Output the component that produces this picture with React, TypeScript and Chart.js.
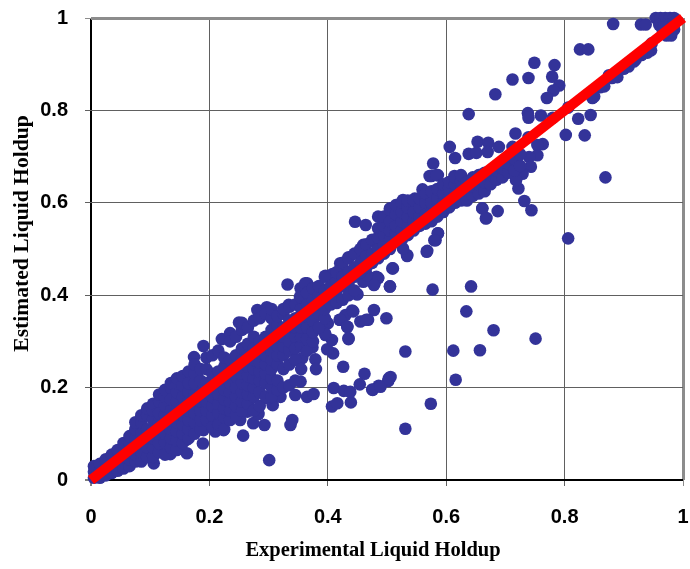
import React, { useEffect, useRef } from "react";
import { Chart, registerables } from "chart.js";
Chart.register(...registerables);

const xTitle = "Experimental Liquid Holdup";
const yTitle = "Estimated Liquid Holdup";
const tickValues = [0, 0.2, 0.4, 0.6, 0.8, 1];
const lineX = [0, 1];
const lineY = [0, 1];

const bandX = [.005,.015,.025,.035,.045,.055,.065,.075,.085,.095,.105,.115,.125,.135,.145,.155,.165,.175,.185,.195,.205,.215,.225,.235,.245,.255,.265,.275,.285,.295,.305,.315,.325,.335,.345,.355,.365,.375,.385,.395,.405,.415,.425,.435,.445,.455,.465,.475,.485,.495,.505,.515,.525,.535,.545,.555,.565,.575,.585,.595,.605,.615,.625,.635,.645,.655,.665,.675,.685,.695,.705,.715,.725];
const bandY = [
[.005,.018,.03],[.005,.02,.035],[.01,.025,.045],[.015,.035,.055],[.02,.04,.065],[.025,.05,.08],
[.03,.045,.06,.08,.095],[.04,.055,.07,.09,.11,.125],[.04,.06,.08,.1,.125,.14],[.05,.07,.09,.11,.14,.155],
[.05,.07,.09,.11,.13,.15,.165],[.06,.08,.1,.125,.145,.17,.185],[.055,.08,.1,.12,.14,.16,.18,.195],[.07,.09,.11,.13,.15,.175,.2,.21],
[.065,.085,.105,.125,.15,.17,.19,.21,.22],[.08,.1,.12,.14,.16,.18,.205,.225],[.09,.11,.13,.15,.17,.19,.21,.235],
[.1,.125,.145,.165,.185,.21,.23,.25],[.11,.13,.15,.17,.19,.215,.24],[.13,.15,.17,.19,.21,.24,.265],
[.115,.14,.16,.18,.2,.23,.27],[.12,.145,.165,.185,.21,.235,.28],[.11,.135,.155,.175,.195,.22,.245,.265],
[.13,.15,.17,.19,.21,.235,.26,.3],[.14,.16,.18,.2,.225,.25,.27,.31],[.15,.17,.19,.21,.23,.26,.285,.325,.34],
[.165,.185,.205,.225,.245,.27,.295,.33],[.15,.18,.2,.22,.24,.26,.285,.31,.345],[.16,.19,.215,.235,.255,.275,.3,.35],
[.18,.21,.23,.25,.27,.29,.31,.36],[.18,.2,.22,.24,.26,.28,.3,.325,.35,.37],[.195,.215,.25,.27,.29,.31,.335,.355],
[.2,.24,.27,.29,.31,.33,.36,.37],[.205,.25,.28,.3,.32,.345,.375],[.215,.26,.285,.31,.33,.35,.38],
[.24,.29,.31,.33,.35,.37,.395],[.28,.305,.33,.355,.38,.405],[.3,.32,.345,.37,.39,.415],[.33,.36,.38,.4,.42],
[.35,.37,.39,.41,.44],[.38,.4,.42],[.385,.41,.43,.45],[.39,.42,.44,.47],[.4,.425,.45,.48],[.41,.44,.46,.49],
[.45,.47,.5],[.46,.485,.51],[.47,.49,.52],[.48,.5,.525,.545],[.49,.51,.53,.55,.57],[.5,.52,.54,.56,.585],
[.515,.535,.55,.575,.595],[.52,.54,.56,.58,.6],[.53,.55,.57,.59,.605],[.54,.56,.58,.605],[.55,.57,.59,.61],
[.555,.575,.6,.62],[.56,.58,.6,.625],[.57,.59,.61,.63],[.58,.6,.62,.64],[.59,.61,.63,.645],[.6,.62,.64,.655],
[.605,.625,.645,.66],[.605,.625,.645],[.615,.635,.655],[.62,.64,.66],[.625,.645,.665],[.64,.66],[.65,.67],
[.655,.675],[.665,.685],[.67,.695],[.68,.705],
];

const looseX = [.882,.929,.937,.826,.84,.749,.783,.712,.739,.779,.791,.781,.77,.683,.638,.738,.739,.76,.78,.806,.823,.844,.802,.834,.717,.847,.867,.889,.875,.908,.917,.946,.869,.806,.744,.732,.722,.687,.661,.668,.586,.582,.567,.534,.509,.482,.606,.615,.578,.572,.586,.653,.671,.689,.67,.638,.651,.739,.712,.763,.754,.754,.74,.743,.729,.718,.577,.642,.505,.479,.485,.478,.499,.468,.634,.68,.751,.531,.612,.657,.506,.502,.486,.475,.616,.574,.531,.301,.257,.34,.337,.293,.274,.252,.283,.264,.307,.345,.365,.376,.41,.407,.416,.439,.427,.438,.454,.476,.489,.503,.462,.426,.409,.399,.407,.396,.4,.435,.433,.42,.441,.43,.455,.465,.45,.332,.365,.354,.353,.174,.19,.221,.235,.25,.281,.297,.334,.379,.38,.374,.357,.354,.32,.298,.162,.134,.106,.064,.189,.161,.158,.224,.21,.176,.19,.23,.446,.464,.485,.505,.527,.547,.56,.575,.584,.614,.48,.488,.454,.46,.435,.421,.426,.396,.408,.362,.586,.58,.568,.534,.527,.51,.505,.449,.661,.667,.485,.478,.46,.466,.443,.421,.433,.399,.395,.435,.415];
const looseY = [.987,.986,.986,.932,.932,.903,.898,.867,.87,.873,.854,.843,.827,.835,.792,.794,.784,.789,.784,.806,.782,.79,.747,.746,.75,.827,.852,.872,.876,.895,.906,.93,.655,.523,.584,.604,.631,.582,.588,.567,.534,.519,.494,.487,.458,.44,.721,.697,.685,.658,.66,.732,.73,.721,.71,.706,.708,.742,.721,.727,.725,.703,.699,.678,.663,.649,.412,.419,.419,.426,.437,.368,.35,.347,.365,.324,.306,.278,.28,.281,.223,.214,.204,.196,.217,.165,.111,.043,.096,.13,.119,.119,.123,.13,.143,.148,.162,.184,.18,.186,.199,.159,.166,.168,.193,.191,.207,.195,.202,.22,.23,.245,.274,.283,.303,.314,.339,.305,.331,.347,.367,.357,.343,.347,.402,.423,.426,.415,.397,.266,.29,.305,.318,.341,.368,.374,.379,.261,.24,.287,.264,.213,.18,.177,.058,.056,.036,.036,.079,.087,.101,.108,.105,.116,.108,.134,.559,.552,.57,.588,.606,.609,.629,.658,.66,.658,.516,.53,.491,.509,.482,.469,.455,.442,.446,.426,.534,.519,.496,.485,.501,.458,.419,.402,.588,.566,.437,.422,.429,.444,.365,.347,.332,.34,.318,.307,.383];

const cornerX = [.954,.962,.97,.978,.985,.96,.968,.976,.984,.966,.974,.982,.972,.98,.985,.94,.947,.975,.98,.968,.985,.93,.92,.9,.88,.86,.85];
const cornerY = [1,1,1,1,1,.985,.985,.985,.985,.972,.972,.972,.962,.962,.975,.925,.945,.968,.97,.98,.99,.92,.91,.89,.87,.85,.83];

const scatterX = [...looseX, ...cornerX, ...bandX.flatMap((x, i) => bandY[i].map(() => x))];
const scatterY = [...looseY, ...cornerY, ...bandY.flat()];

const edge = (v: number, end: string, far: string, mid: string) =>
  v === 0 ? end : v === 1 ? far : mid;

const tickFont = { family: "'Liberation Sans'", size: 20, weight: "bold" as const };

const axisTitles = {
  id: "axisTitles",
  afterDraw(chart: any) {
    const c = chart.ctx;
    c.save();
    c.fillStyle = "#000000";
    c.textAlign = "center";
    c.textBaseline = "middle";
    c.font = "bold 20.5px 'Liberation Serif'";
    c.fillText(xTitle, 373, 551);
    c.translate(22, 233.5);
    c.rotate(-Math.PI / 2);
    c.font = "bold 21.6px 'Liberation Serif'";
    c.fillText(yTitle, 0, 0);
    c.restore();
  },
};

function scale(isX: boolean, size: number) {
  return {
    type: "linear" as const,
    min: 0,
    max: 1,
    afterFit: (s: any) => {
      if (isX) s.height = size;
      else s.width = size;
      s.paddingLeft = 0;
      s.paddingRight = 0;
      s.paddingTop = 0;
      s.paddingBottom = 0;
    },
    afterBuildTicks: (s: any) => {
      s.ticks = tickValues.map((value) => ({ value }));
    },
    border: { display: false },
    grid: {
      tickLength: 6,
      color: (c: any) => edge(c.tick?.value, "#000000", "#8c8c8c", "#606060"),
      lineWidth: (c: any) => edge(c.tick?.value, 2, 3, 1) as any,
      tickColor: (c: any) => edge(c.tick?.value, "#000000", "#8c8c8c", "#606060"),
      tickWidth: 1,
    },
    ticks: {
      color: "#000000",
      font: tickFont,
      padding: isX ? 19 : 17,
      maxRotation: 0,
      autoSkip: false,
      callback: (v: any) => String(v),
    },
  };
}

export default function App() {
  const ref = useRef<HTMLCanvasElement>(null);
  useEffect(() => {
    const chart = new Chart(ref.current!, {
      type: "scatter",
      plugins: [axisTitles],
      data: {
        datasets: [
          {
            label: "Line",
            data: lineX.map((x, i) => ({ x, y: lineY[i] })),
            showLine: true,
            borderColor: "#ff0000",
            borderWidth: 10,
            pointRadius: 0,
            clip: false as any,
            order: 0,
          },
          {
            label: "Holdup",
            data: scatterX.map((x, i) => ({ x, y: scatterY[i] })),
            backgroundColor: "#333399",
            borderWidth: 0,
            pointRadius: 6.3,
            clip: false as any,
            order: 1,
          },
        ],
      },
      options: {
        responsive: false,
        animation: false,
        layout: { padding: { top: 18, right: 7, left: 0, bottom: 0 } },
        plugins: { legend: { display: false }, tooltip: { enabled: false } },
        scales: { x: scale(true, 89), y: scale(false, 91) },
      },
    });
    return () => chart.destroy();
  }, []);
  return (
    <canvas
      ref={ref}
      width={690}
      height={569}
      style={{ position: "absolute", left: 0, top: 0, display: "block", background: "#fff" }}
    />
  );
}
